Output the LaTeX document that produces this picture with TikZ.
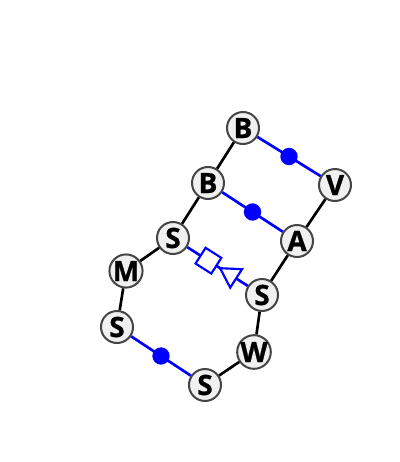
\documentclass[tikz,border=0pt]{standalone}
\usepackage{fontspec}
\newfontfamily\resfont[BoldFeatures={FakeBold=0.8}]{Open Sans}
\usetikzlibrary{shapes.geometric}

\begin{document}
\begin{tikzpicture}[x=0.75pt,y=0.75pt,yscale=-1,xscale=1,
  res/.style={circle, draw={rgb,255:red,68;green,68;blue,68}, fill={rgb,255:red,240;green,240;blue,240}, line width=1.5pt, minimum size=24pt, inner sep=0pt, font=\resfont\bfseries\fontsize{21}{21}\selectfont},
  bond/.style={line width=2pt},
  link/.style={line width=2pt, draw=blue},
  bead/.style={circle, fill=blue, minimum size=13pt, inner sep=0pt},
  sqbox/.style={rectangle, draw=blue, fill=white, line width=1.6pt, minimum size=14pt, inner sep=0pt, rotate=-32.6},
  tribox/.style={regular polygon, regular polygon sides=3, shape border rotate=90, draw=blue, fill=white, line width=1.6pt, minimum size=19pt, inner sep=0pt, rotate=-32.6}]
\path[use as bounding box] (0,0) rectangle (400,462);

% Residues
\node[res] (b1) at (243,128) {B};
\node[res] (v)  at (335,185) {V};
\node[res] (b2) at (208,183) {B};
\node[res] (a)  at (297,241) {A};
\node[res] (s1) at (173,238) {S};
\node[res] (m)  at (126,271) {M};
\node[res] (s2) at (262,295) {S};
\node[res] (s3) at (117,327) {S};
\node[res] (w)  at (254,352) {W};
\node[res] (s4) at (205,385) {S};

% Backbone
\draw[bond] (b1) -- (b2) -- (s1) -- (m) -- (s3);
\draw[bond] (s4) -- (w) -- (s2) -- (a) -- (v);

% Links
\draw[link] (b1) -- node[bead]{} (v);
\draw[link] (b2) -- node[bead]{} (a);
\draw[link] (s3) -- node[bead]{} (s4);
\draw[link] (s1) -- node[pos=0.35,sqbox]{} node[pos=0.72,tribox]{} (s2);

\end{tikzpicture}
\end{document}
